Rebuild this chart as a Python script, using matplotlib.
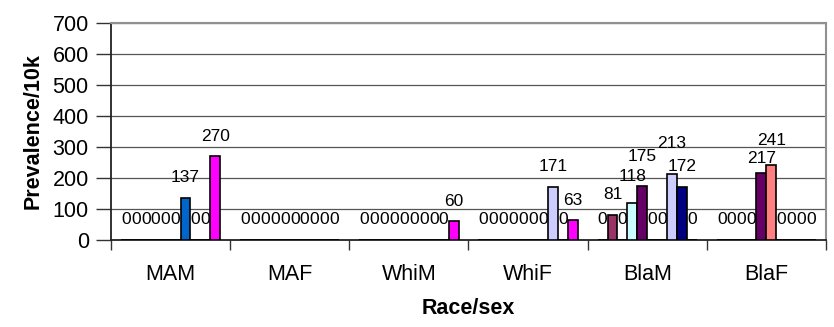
import matplotlib
matplotlib.use("Agg")
import matplotlib.pyplot as plt
import numpy as np

plt.rcParams['font.family'] = ['Liberation Sans', 'DejaVu Sans']

groups = ["MAM", "MAF", "WhiM", "WhiF", "BlaM", "BlaF"]
series_colors = ["#9999FF", "#993366", "#FFFFCC", "#CCFFFF", "#660066",
                 "#FF8080", "#0066CC", "#CCCCFF", "#000080", "#FF00FF"]

# one list per race/sex group, ten series each
mam = [0, 0, 0, 0, 0, 0, 137, 0, 0, 270]
maf = [0, 0, 0, 0, 0, 0, 0, 0, 0, 0]
whim = [0, 0, 0, 0, 0, 0, 0, 0, 0, 60]
whif = [0, 0, 0, 0, 0, 0, 0, 171, 0, 63]
blam = [0, 81, 0, 118, 175, 0, 0, 213, 172, 0]
blaf = [0, 0, 0, 0, 217, 241, 0, 0, 0, 0]

values = np.array([mam, maf, whim, whif, blam, blaf])
y_ticks = [0, 100, 200, 300, 400, 500, 600, 700]

# extra vertical shift (pixels) for crowded value labels: (group, series) -> px
label_nudge = {(4, 3): 7, (4, 4): 9, (4, 7): 10, (5, 4): -6, (5, 5): 5}

fig = plt.figure(figsize=(8.34, 3.27), dpi=100)
ax = fig.add_axes([111 / 834, 1 - 240 / 327, 715 / 834, 217 / 327])

n_series = values.shape[1]
w = 1 / 12
x = np.arange(len(groups))
for k in range(n_series):
    pos = x + (k - (n_series - 1) / 2) * w
    ax.bar(pos, values[:, k], width=w, color=series_colors[k],
           edgecolor="black", linewidth=1.2, zorder=3)
    for g, (xi, v) in enumerate(zip(pos, values[:, k])):
        dy = 20 + label_nudge.get((g, k), 0)
        ax.annotate(str(v), (xi, v), xytext=(0, dy), textcoords="offset pixels",
                    ha="center", va="center", fontsize=12.5, zorder=4)

ax.set_xlim(-0.5, len(groups) - 0.5)
ax.set_ylim(0, 700)
ax.set_yticks(y_ticks)
ax.set_yticklabels([str(t) for t in y_ticks], fontsize=15.5)
ax.yaxis.grid(True, color="#555555", linewidth=0.9, zorder=0)
ax.set_axisbelow(True)

ax.set_xticks(x)
ax.set_xticklabels(groups, fontsize=15.5)
ax.set_xticks(np.arange(len(groups) + 1) - 0.5, minor=True)
ax.tick_params(axis="x", which="major", length=0, pad=17)
ax.tick_params(axis="x", which="minor", length=7, width=1, color="#333333")
ax.tick_params(axis="y", length=11, width=1, color="#333333", direction="out", pad=5)

for side in ("left", "bottom"):
    ax.spines[side].set_color("#222222")
    ax.spines[side].set_linewidth(1.3)
for side in ("top", "right"):
    ax.spines[side].set_color("#909090")
    ax.spines[side].set_linewidth(1.5)

fig.text(468 / 834, 1 - 309 / 327, "Race/sex", fontsize=15.5, fontweight="bold",
         ha="center", va="center")
fig.text(33 / 834, 1 - 131 / 327, "Prevalence/10k", fontsize=15.5, fontweight="bold",
         ha="center", va="center", rotation=90)

fig.savefig("out.png", dpi=100)
